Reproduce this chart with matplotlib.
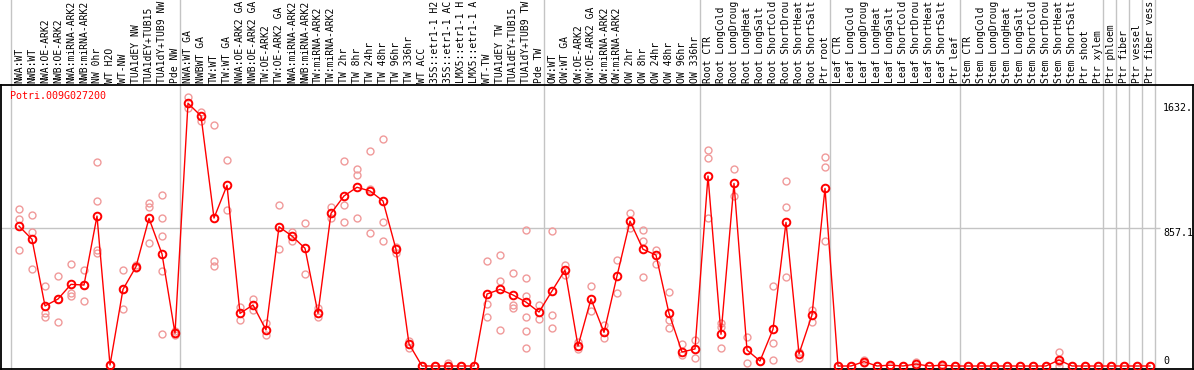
import numpy as np
import matplotlib
matplotlib.use('Agg')
import matplotlib.pyplot as plt
from matplotlib.transforms import blended_transform_factory

gene = "Potri.009G027200"

# sample names as far as they are visible in the header strip
samples = [
    "NWA:WT", "NWB:WT", "NWA:OE-ARK2", "NWB:OE-ARK2", "NWA:miRNA-ARK2", "NWB:miRNA-ARK2",
    "NW 0hr", "WT H2O", "WT-NW", "TUA1dEY NW", "TUA1dEY+TUB15", "TUA1dY+TUB9 NW", "Pde NW",
    "NWA:WT GA", "NWBWT GA", "TW:WT", "TW:WT GA", "NWA:OE-ARK2 GA", "NWB:OE-ARK2 GA",
    "TW:OE-ARK2", "TW:OE-ARK2 GA", "NWA:miRNA-ARK2", "NWB:miRNA-ARK2", "TW:miRNA-ARK2",
    "TW:miRNA-ARK2", "TW 2hr", "TW 8hr", "TW 24hr", "TW 48hr", "TW 96hr", "TW 336hr",
    "WT ACC", "35S::etr1-1 H2", "35S::etr1-1 AC", "LMX5::etr1-1 H", "LMX5::etr1-1 A",
    "WT-TW", "TUA1dEY TW", "TUA1dEY+TUB15", "TUA1dY+TUB9 TW", "Pde TW",
    "OW:WT", "OW:WT GA", "OW:OE-ARK2", "OW:OE-ARK2 GA", "OW:miRNA-ARK2", "OW:miRNA-ARK2",
    "OW 2hr", "OW 8hr", "OW 24hr", "OW 48hr", "OW 96hr", "OW 336hr",
    "Root CTR", "Root LongCold", "Root LongDroug", "Root LongHeat", "Root LongSalt",
    "Root ShortCold", "Root ShortDrou", "Root ShortHeat", "Root ShortSalt", "Ptr root",
    "Leaf CTR", "Leaf LongCold", "Leaf LongDroug", "Leaf LongHeat", "Leaf LongSalt",
    "Leaf ShortCold", "Leaf ShortDrou", "Leaf ShortHeat", "Leaf ShortSalt", "Ptr leaf",
    "Stem CTR", "Stem LongCold", "Stem LongDroug", "Stem LongHeat", "Stem LongSalt",
    "Stem ShortCold", "Stem ShortDrou", "Stem ShortHeat", "Stem ShortSalt", "Ptr shoot",
    "Ptr xylem", "Ptr phloem", "Ptr fiber", "Ptr vessel", "Ptr fiber vess",
]

means = [
    869, 787, 373, 416, 507, 503, 931, 6, 476, 617, 917, 696, 203,
    1632, 1553, 919, 1122, 327, 379, 224, 865, 807, 731, 327, 948, 1056, 1110, 1087,
    1025, 725, 137, 0, 0, 0, 0, 0, 447, 476, 441, 397, 335,
    466, 596, 124, 416, 209, 559, 900, 725, 689, 327, 87, 106,
    1180, 197, 1134, 99, 31, 228, 892, 75, 317, 1103,
    0, 0, 27, 0, 5, 0, 12, 0, 5, 0,
    0, 0, 0, 0, 0, 0, 0, 37, 0, 0,
    0, 0, 0, 0, 0,
]

reps = [
    [975, 913, 720], [938, 832, 602], [497, 331, 302], [559, 416, 273], [633, 455, 435],
    [596, 505, 404], [1267, 1025, 720, 700], [4, 8], [594, 480, 354], [625, 610],
    [1010, 989, 762], [1060, 919, 807, 588, 197], [220, 190],
    [1668, 1600], [1579, 1524], [1497, 650, 621], [1279, 969], [368, 286], [414, 348],
    [265, 193], [1000, 725], [834, 778], [886, 571], [358, 306], [985, 917],
    [1273, 998, 892], [1223, 1184, 919], [1335, 1097, 824], [1408, 896, 774], [740, 700],
    [157, 110], [0, 0], [0, 0], [17, 0], [0, 0], [0, 0],
    [650, 383, 306], [689, 526, 224], [575, 379, 358], [845, 546, 435, 302, 217, 110], [379, 290],
    [838, 315, 236], [627, 565], [151, 103], [497, 342], [255, 176], [658, 451],
    [952, 857], [845, 776, 555], [720, 631], [460, 286, 236], [137, 68], [161, 48],
    [1341, 1290, 917], [265, 244, 110], [1221, 1056], [182, 17], [31, 31],
    [497, 141, 37], [1149, 985, 551], [89, 48], [348, 275], [1296, 1234, 778],
    [0, 0], [0, 0], [37, 17], [0, 0], [8, 2], [0, 0], [27, 0], [0, 0], [10, 0], [0, 0],
    [0, 0], [0, 0], [0, 0], [0, 0], [0, 0], [0, 0], [0, 0], [85, 25, 0], [0, 0], [0, 0],
    [0, 0], [0, 0], [0, 0], [0, 0], [0, 0],
]

# group separators: index of first sample after each boundary
group_breaks = [0, 13, 41, 53, 63, 73, 84, 85, 86, 87, 88]

y_ticks = [1632, 857.1, 0]
y_tick_labels = ["1632.", "857.1", "0"]

W, H = 1194, 370
fig = plt.figure(figsize=(W / 100, H / 100), dpi=100)
ax = fig.add_axes([1 / W, 1 / H, 1192 / W, 284 / H])

step = 13.0
x0 = -(19 - 1) / step
ax.set_xlim(x0, x0 + 1192 / step)
scale = 138 / 857.1
ax.set_ylim(-3 / scale, 281 / scale)
ax.set_xticks([])
ax.set_yticks([])
for s in ax.spines.values():
    s.set_color('black')
    s.set_linewidth(1.3)

mono = 'DejaVu Sans Mono'
grey = '#c4c4c4'

for b in group_breaks:
    ax.axvline(b - 0.615, ymin=0, ymax=369 / 284, color=grey, lw=1,
               clip_on=False, zorder=0)

ax.hlines(857.1, x0, (1160 - 19) / step, color=grey, lw=1, zorder=0)

x = np.arange(len(samples))
for i, r in enumerate(reps):
    ax.plot([i] * len(r), r, linestyle='none', marker='o', ms=5, mfc='none',
            mec='#f09a9a', mew=1, zorder=2)
ax.plot(x, means, color='red', lw=1, marker='o', ms=5.5, mfc='none', mec='red',
        mew=1.4, zorder=3)

tr = blended_transform_factory(ax.transData, ax.transAxes)
for i, s in enumerate(samples):
    ax.text(i, 1 + 2 / 284, s, rotation=90, ha='center', va='bottom',
            transform=tr, clip_on=False, fontsize=7.0, family=mono)

ax.text(9 / 1192, 1 - 6 / 284, gene, transform=ax.transAxes, ha='left', va='top',
        color='red', fontsize=7.2, family=mono)

lx = (1163 - 19) / step
for v, lab in zip(y_ticks, y_tick_labels):
    ax.text(lx, v, lab, ha='left', va='bottom' if v == 0 else 'top',
            fontsize=7.2, family=mono)

fig.savefig('out.png', dpi=100)
